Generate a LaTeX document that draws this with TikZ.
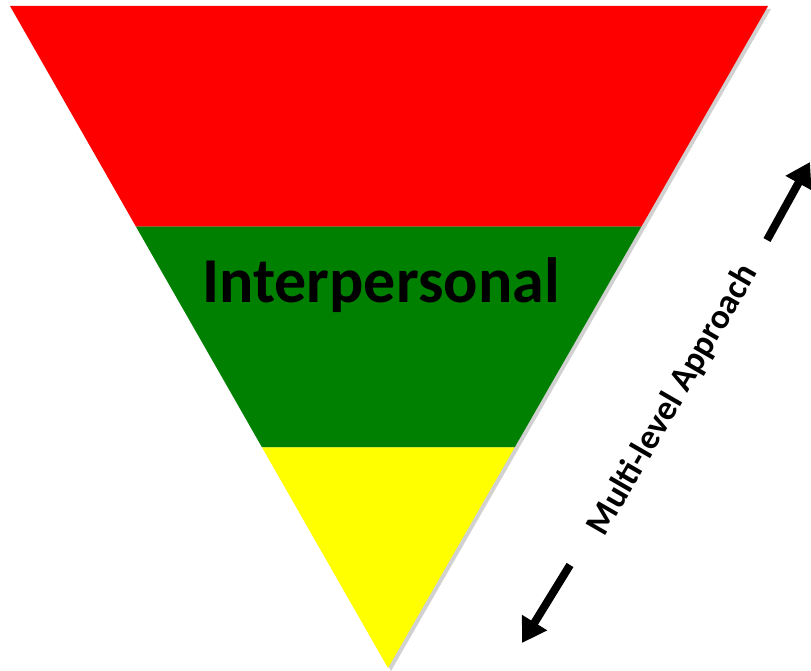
\documentclass[tikz,border=0pt]{standalone}
\usepackage{fontspec}
\setmainfont{Carlito}
\usepackage{tikz}
\usetikzlibrary{arrows.meta,calc}
\definecolor{levelred}{RGB}{255,0,0}
\definecolor{levelgreen}{RGB}{0,128,0}
\definecolor{levelyellow}{RGB}{255,255,0}
\tikzset{
  shadowband/.style={fill=black!18,draw=none},
  levellabel/.style={font=\bfseries\fontsize{64}{72}\selectfont,text=black,inner sep=0pt},
  sidelabel/.style={font=\bfseries\fontsize{35}{42}\selectfont,text=black,inner sep=0pt,rotate=60},
  bigarr/.style={-{Triangle[length=24pt,width=28pt]},draw=black,line width=8pt}
}

\begin{document}
\begin{tikzpicture}[x=1pt,y=-1pt]
  \useasboundingbox (0,0) rectangle (811,671);
  % funnel corners and band edges
  \coordinate (tl) at (10,6);
  \coordinate (tr) at (768,6);
  \coordinate (apex) at (388,668);
  \coordinate (gl) at ($(tl)!1/3!(apex)$);
  \coordinate (gr) at ($(tr)!1/3!(apex)$);
  \coordinate (yl) at ($(tl)!2/3!(apex)$);
  \coordinate (yr) at ($(tr)!2/3!(apex)$);
  \fill[shadowband] ($(tl)+(3,3)$) -- ($(tr)+(3,3)$) -- ($(apex)+(3,3)$) -- cycle;
  \fill[levelred] (tl) -- (tr) -- (gr) -- (gl) -- cycle;
  \fill[levelgreen] (gl) -- (gr) -- (yr) -- (yl) -- cycle;
  \fill[levelyellow] (yl) -- (yr) -- (apex) -- cycle;
  \node[levellabel,anchor=base] (inter) at (381,302) {Interpersonal};
  % side label with arrows
  \node[sidelabel] (multi) at (673,400) {Multi-level Approach};
  \coordinate (uptail) at (767,240);
  \coordinate (uptip) at (810,162);
  \coordinate (downtail) at (570,565);
  \coordinate (downtip) at (522,643);
  \draw[bigarr] (uptail) -- (uptip);
  \draw[bigarr] (downtail) -- (downtip);
\end{tikzpicture}
\end{document}
